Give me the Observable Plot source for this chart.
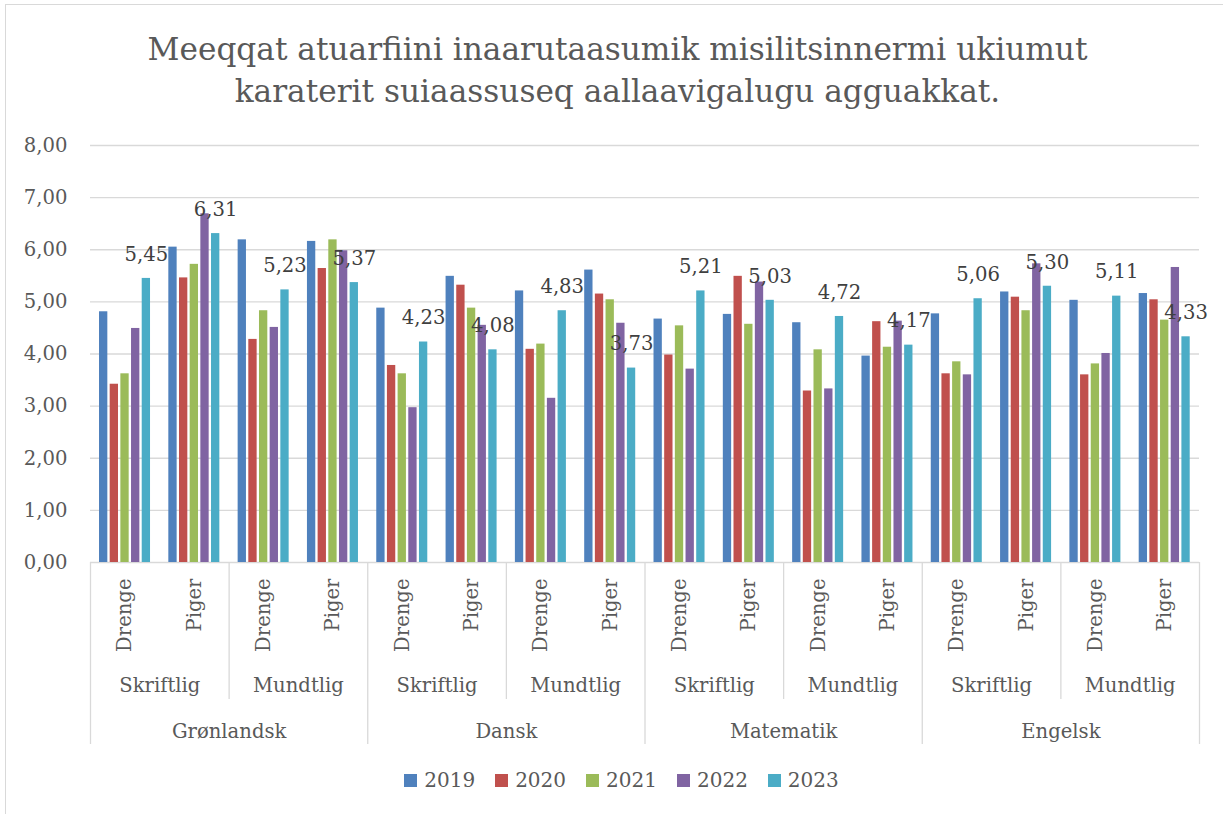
<!DOCTYPE html>
<html><head><meta charset="utf-8">
<script src="https://cdn.jsdelivr.net/npm/d3@7"></script>
<script src="https://cdn.jsdelivr.net/npm/@observablehq/plot@0.6"></script>
<style>
body{margin:0;background:#fff;}
#wrap{position:relative;width:1223px;height:814px;overflow:hidden;font-family:"DejaVu Serif",serif;color:#595959;}
#border{position:absolute;left:5px;top:4px;width:1240px;height:840px;border-left:1.3px solid #d9d9d9;border-top:1.3px solid #d9d9d9;}
#title{position:absolute;top:28px;left:0;width:1235px;text-align:center;font-size:31.2px;line-height:42px;}
#chart{position:absolute;left:0;top:120px;}
#legend{position:absolute;top:766px;left:10px;width:1223px;display:flex;justify-content:center;font-size:20px;line-height:28px;}
.item{display:flex;align-items:center;margin:0 10px;}
.sw{width:13px;height:13px;margin-right:7px;}
</style></head>
<body><div id="wrap"><div id="border"></div>
<div id="title">Meeqqat atuarfiini inaarutaasumik misilitsinnermi ukiumut<br>karaterit suiaassuseq aallaavigalugu agguakkat.</div>
<div id="chart"></div><div id="legend"></div></div>
<script>
const subjects = ["Grønlandsk", "Dansk", "Matematik", "Engelsk"];
const types = ["Skriftlig", "Mundtlig"];
const genders = ["Drenge", "Piger"];
const years = ["2019", "2020", "2021", "2022", "2023"];
const colors = ["#4F81BD", "#C0504D", "#9BBB59", "#8064A2", "#4BACC6"];
const yTicks = [0, 1, 2, 3, 4, 5, 6, 7, 8];
// values per group: subject > type > gender order
const v2019 = [4.81, 6.05, 6.19, 6.16, 4.88, 5.49, 5.21, 5.61, 4.67, 4.76, 4.60, 3.96, 4.77, 5.19, 5.03, 5.16];
const v2020 = [3.42, 5.46, 4.28, 5.64, 3.78, 5.32, 4.09, 5.15, 3.98, 5.49, 3.29, 4.62, 3.62, 5.09, 3.60, 5.04];
const v2021 = [3.62, 5.72, 4.83, 6.19, 3.62, 4.88, 4.19, 5.04, 4.54, 4.57, 4.08, 4.13, 3.85, 4.83, 3.81, 4.65];
const v2022 = [4.49, 6.69, 4.51, 5.98, 2.97, 4.55, 3.15, 4.59, 3.71, 5.38, 3.33, 4.63, 3.60, 5.73, 4.01, 5.66];
const v2023 = [5.45, 6.31, 5.23, 5.37, 4.23, 4.08, 4.83, 3.73, 5.21, 5.03, 4.72, 4.17, 5.06, 5.30, 5.11, 4.33];
const series = [v2019, v2020, v2021, v2022, v2023];

const groups = [];
subjects.forEach((s, si) => types.forEach((t, ti) => genders.forEach((g, gi) => {
  groups.push({i: groups.length, subject: s, type: t, gender: g});
})));
const rows = [];
series.forEach((vals, j) => vals.forEach((v, i) => rows.push({i, j, year: years[j], value: v})));

const off = 0.13, step = 0.154, bw = 0.12;
const bx1 = d => d.i + off + d.j * step;
const bx2 = d => d.i + off + d.j * step + bw;
const fmt = v => v.toFixed(2).replace(".", ",");
const typeRows = [];
subjects.forEach((s, si) => types.forEach((t, ti) => typeRows.push({k: si * 2 + ti, t})));
const subjRows = subjects.map((s, si) => ({si, s}));

const fs = 19.6;
const frameH = 417;
const plot = Plot.plot({
  width: 1223, height: 640,
  marginTop: 25, marginBottom: 198, marginLeft: 90, marginRight: 24,
  style: {fontFamily: "DejaVu Serif, serif", fontSize: fs + "px", color: "#595959", background: "transparent"},
  x: {type: "linear", domain: [0, 16], axis: null},
  y: {domain: [0, 8], axis: null},
  color: {domain: years, range: colors},
  marks: [
    Plot.ruleY(yTicks, {stroke: "#d9d9d9", strokeWidth: 1.3}),
    Plot.axisY(yTicks, {tickSize: 0, tickPadding: 23, tickFormat: fmt, label: null, fontSize: fs}),
    Plot.rect(rows, {x1: bx1, x2: bx2, y1: d => 0, y2: "value", fill: "year"}),
    Plot.text(rows.filter(d => d.year === "2023"), {x: d => (bx1(d) + bx2(d)) / 2, y: "value", text: d => fmt(d.value), dy: -24, fontSize: fs, fill: "#404040"}),
    Plot.text(groups, {x: d => d.i + 0.5, y: d => 0, text: "gender", rotate: -90, textAnchor: "end", lineAnchor: "middle", dy: 16, fontSize: fs, fill: "#595959"}),
    Plot.text(typeRows, {x: d => d.k * 2 + 1, y: d => 0, text: "t", dy: 123, fontSize: fs, fill: "#595959"}),
    Plot.text(subjRows, {x: d => d.si * 4 + 2, y: d => 0, text: "s", dy: 169, fontSize: fs, fill: "#595959"}),
    Plot.ruleX(typeRows.filter(d => d.k % 2 === 1).map(d => d.k * 2), {x: d => d, stroke: "#d9d9d9", strokeWidth: 1.3, insetTop: frameH - 137, dy: 137}),
    Plot.ruleX(d3.range(0, 17, 4), {x: d => d, stroke: "#d9d9d9", strokeWidth: 1.3, insetTop: frameH - 182, dy: 182})
  ]
});
document.getElementById("chart").appendChild(plot);

const leg = document.getElementById("legend");
years.forEach((y, j) => {
  const it = document.createElement("div"); it.className = "item";
  it.innerHTML = `<div class="sw" style="background:${colors[j]}"></div><span>${y}</span>`;
  leg.appendChild(it);
});
</script></body></html>
